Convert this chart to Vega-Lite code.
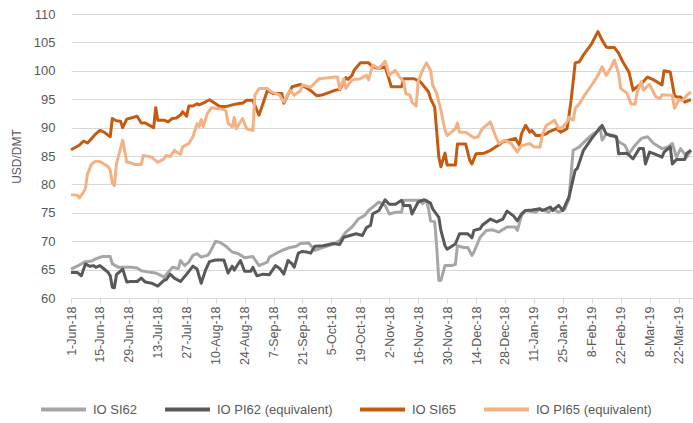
{
  "$schema": "https://vega.github.io/schema/vega-lite/v6.json",
  "autosize": {"type": "none"},
  "width": 622,
  "height": 284,
  "padding": {"left": 71, "top": 14, "right": 0, "bottom": 125},
  "background": "white",
  "config": {
    "view": {"stroke": null},
    "font": "Liberation Sans",
    "axis": {"labelColor": "#595959", "titleColor": "#595959", "labelFont": "Liberation Sans", "titleFont": "Liberation Sans"},
    "legend": {"labelFont": "Liberation Sans"}
  },
  "datasets": {
    "si62": [
      {"d":"2018-06-01","v":65.1},{"d":"2018-06-05","v":65.8},{"d":"2018-06-08","v":66.4},{"d":"2018-06-11","v":66.5},{"d":"2018-06-13","v":66.9},{"d":"2018-06-16","v":67.3},{"d":"2018-06-20","v":67.3},{"d":"2018-06-21","v":66.0},{"d":"2018-06-24","v":65.4},{"d":"2018-06-26","v":65.4},{"d":"2018-06-30","v":65.4},{"d":"2018-07-03","v":65.3},{"d":"2018-07-05","v":64.8},{"d":"2018-07-08","v":64.6},{"d":"2018-07-10","v":64.5},{"d":"2018-07-12","v":64.4},{"d":"2018-07-15","v":63.9},{"d":"2018-07-16","v":63.6},{"d":"2018-07-18","v":64.5},{"d":"2018-07-20","v":65.4},{"d":"2018-07-23","v":65.2},{"d":"2018-07-24","v":66.6},{"d":"2018-07-26","v":65.7},{"d":"2018-07-28","v":66.3},{"d":"2018-07-30","v":67.5},{"d":"2018-08-01","v":67.8},{"d":"2018-08-03","v":67.2},{"d":"2018-08-06","v":67.5},{"d":"2018-08-07","v":67.9},{"d":"2018-08-10","v":70.0},{"d":"2018-08-12","v":69.8},{"d":"2018-08-15","v":69.1},{"d":"2018-08-18","v":68.1},{"d":"2018-08-21","v":67.8},{"d":"2018-08-24","v":67.1},{"d":"2018-08-28","v":67.3},{"d":"2018-08-31","v":65.7},{"d":"2018-09-02","v":66.0},{"d":"2018-09-04","v":66.3},{"d":"2018-09-05","v":67.2},{"d":"2018-09-08","v":67.8},{"d":"2018-09-12","v":68.5},{"d":"2018-09-15","v":68.9},{"d":"2018-09-18","v":69.1},{"d":"2018-09-20","v":69.6},{"d":"2018-09-24","v":69.7},{"d":"2018-09-27","v":68.4},{"d":"2018-09-30","v":68.8},{"d":"2018-10-06","v":69.5},{"d":"2018-10-09","v":70.1},{"d":"2018-10-12","v":71.6},{"d":"2018-10-15","v":72.5},{"d":"2018-10-18","v":73.9},{"d":"2018-10-21","v":74.5},{"d":"2018-10-23","v":75.4},{"d":"2018-10-25","v":76.0},{"d":"2018-10-28","v":76.9},{"d":"2018-10-31","v":76.3},{"d":"2018-11-02","v":74.8},{"d":"2018-11-05","v":75.1},{"d":"2018-11-08","v":75.1},{"d":"2018-11-09","v":77.2},{"d":"2018-11-17","v":77.2},{"d":"2018-11-18","v":76.6},{"d":"2018-11-20","v":77.2},{"d":"2018-11-21","v":75.7},{"d":"2018-11-22","v":73.6},{"d":"2018-11-24","v":73.4},{"d":"2018-11-25","v":68.9},{"d":"2018-11-26","v":63.1},{"d":"2018-11-27","v":63.1},{"d":"2018-11-29","v":65.7},{"d":"2018-12-02","v":65.7},{"d":"2018-12-04","v":65.9},{"d":"2018-12-05","v":69.2},{"d":"2018-12-08","v":68.9},{"d":"2018-12-10","v":68.9},{"d":"2018-12-12","v":67.5},{"d":"2018-12-13","v":68.1},{"d":"2018-12-16","v":70.7},{"d":"2018-12-19","v":71.9},{"d":"2018-12-22","v":72.0},{"d":"2018-12-25","v":71.6},{"d":"2018-12-29","v":72.5},{"d":"2019-01-02","v":72.5},{"d":"2019-01-03","v":71.9},{"d":"2019-01-05","v":74.5},{"d":"2019-01-07","v":75.4},{"d":"2019-01-12","v":75.1},{"d":"2019-01-14","v":75.7},{"d":"2019-01-18","v":75.1},{"d":"2019-01-20","v":75.7},{"d":"2019-01-23","v":75.1},{"d":"2019-01-26","v":75.7},{"d":"2019-01-28","v":77.5},{"d":"2019-01-30","v":86.0},{"d":"2019-02-02","v":86.6},{"d":"2019-02-07","v":88.4},{"d":"2019-02-11","v":89.5},{"d":"2019-02-12","v":90.1},{"d":"2019-02-13","v":87.8},{"d":"2019-02-15","v":88.9},{"d":"2019-02-19","v":88.6},{"d":"2019-02-21","v":87.5},{"d":"2019-02-24","v":86.9},{"d":"2019-02-26","v":85.4},{"d":"2019-03-01","v":86.9},{"d":"2019-03-04","v":88.1},{"d":"2019-03-07","v":88.4},{"d":"2019-03-10","v":87.2},{"d":"2019-03-14","v":86.3},{"d":"2019-03-17","v":86.6},{"d":"2019-03-19","v":87.2},{"d":"2019-03-21","v":84.8},{"d":"2019-03-23","v":86.3},{"d":"2019-03-26","v":84.8},{"d":"2019-03-28","v":86.0}
    ],
    "pi62": [
      {"d":"2018-06-01","v":64.5},{"d":"2018-06-04","v":64.5},{"d":"2018-06-06","v":63.9},{"d":"2018-06-08","v":66.0},{"d":"2018-06-10","v":65.6},{"d":"2018-06-12","v":65.7},{"d":"2018-06-13","v":65.4},{"d":"2018-06-15","v":65.7},{"d":"2018-06-17","v":65.1},{"d":"2018-06-19","v":64.5},{"d":"2018-06-20","v":63.9},{"d":"2018-06-21","v":61.9},{"d":"2018-06-22","v":61.8},{"d":"2018-06-23","v":64.1},{"d":"2018-06-26","v":65.1},{"d":"2018-06-28","v":62.8},{"d":"2018-06-30","v":62.9},{"d":"2018-07-03","v":62.9},{"d":"2018-07-05","v":63.5},{"d":"2018-07-07","v":62.8},{"d":"2018-07-10","v":62.6},{"d":"2018-07-13","v":62.1},{"d":"2018-07-16","v":63.1},{"d":"2018-07-17","v":63.2},{"d":"2018-07-19","v":64.2},{"d":"2018-07-21","v":63.5},{"d":"2018-07-24","v":62.9},{"d":"2018-07-27","v":64.2},{"d":"2018-07-30","v":65.6},{"d":"2018-08-01","v":65.1},{"d":"2018-08-03","v":62.6},{"d":"2018-08-05","v":64.8},{"d":"2018-08-07","v":66.4},{"d":"2018-08-10","v":66.7},{"d":"2018-08-14","v":66.7},{"d":"2018-08-16","v":64.4},{"d":"2018-08-18","v":65.6},{"d":"2018-08-19","v":64.9},{"d":"2018-08-20","v":65.5},{"d":"2018-08-22","v":66.6},{"d":"2018-08-24","v":64.7},{"d":"2018-08-27","v":64.7},{"d":"2018-08-28","v":65.4},{"d":"2018-08-30","v":63.9},{"d":"2018-09-02","v":64.2},{"d":"2018-09-05","v":64.1},{"d":"2018-09-08","v":65.7},{"d":"2018-09-10","v":65.2},{"d":"2018-09-12","v":64.2},{"d":"2018-09-14","v":66.6},{"d":"2018-09-16","v":66.0},{"d":"2018-09-17","v":65.4},{"d":"2018-09-19","v":67.9},{"d":"2018-09-21","v":68.2},{"d":"2018-09-23","v":68.1},{"d":"2018-09-25","v":67.9},{"d":"2018-09-27","v":69.1},{"d":"2018-10-01","v":69.2},{"d":"2018-10-06","v":69.6},{"d":"2018-10-09","v":69.4},{"d":"2018-10-11","v":70.7},{"d":"2018-10-14","v":71.0},{"d":"2018-10-17","v":71.3},{"d":"2018-10-20","v":71.0},{"d":"2018-10-22","v":72.4},{"d":"2018-10-24","v":72.8},{"d":"2018-10-25","v":74.8},{"d":"2018-10-28","v":75.4},{"d":"2018-10-31","v":77.3},{"d":"2018-11-02","v":76.5},{"d":"2018-11-05","v":76.5},{"d":"2018-11-08","v":77.2},{"d":"2018-11-09","v":76.3},{"d":"2018-11-12","v":76.3},{"d":"2018-11-13","v":74.8},{"d":"2018-11-16","v":76.9},{"d":"2018-11-19","v":77.3},{"d":"2018-11-22","v":76.7},{"d":"2018-11-23","v":75.7},{"d":"2018-11-26","v":74.2},{"d":"2018-11-27","v":71.9},{"d":"2018-11-29","v":69.2},{"d":"2018-11-30","v":68.6},{"d":"2018-12-04","v":69.5},{"d":"2018-12-06","v":71.3},{"d":"2018-12-10","v":71.3},{"d":"2018-12-12","v":70.6},{"d":"2018-12-13","v":71.9},{"d":"2018-12-16","v":72.2},{"d":"2018-12-17","v":72.8},{"d":"2018-12-21","v":73.9},{"d":"2018-12-24","v":73.4},{"d":"2018-12-27","v":73.9},{"d":"2018-12-29","v":75.3},{"d":"2019-01-01","v":74.5},{"d":"2019-01-03","v":73.6},{"d":"2019-01-05","v":74.8},{"d":"2019-01-07","v":75.4},{"d":"2019-01-10","v":75.5},{"d":"2019-01-14","v":75.7},{"d":"2019-01-15","v":75.4},{"d":"2019-01-19","v":76.0},{"d":"2019-01-20","v":75.4},{"d":"2019-01-23","v":76.3},{"d":"2019-01-25","v":75.4},{"d":"2019-01-28","v":77.8},{"d":"2019-01-31","v":82.5},{"d":"2019-02-01","v":82.8},{"d":"2019-02-04","v":86.0},{"d":"2019-02-08","v":88.1},{"d":"2019-02-13","v":90.4},{"d":"2019-02-15","v":88.9},{"d":"2019-02-17","v":88.6},{"d":"2019-02-20","v":88.4},{"d":"2019-02-21","v":85.4},{"d":"2019-02-25","v":85.5},{"d":"2019-02-28","v":84.5},{"d":"2019-03-03","v":86.3},{"d":"2019-03-05","v":86.3},{"d":"2019-03-06","v":83.6},{"d":"2019-03-08","v":85.7},{"d":"2019-03-10","v":85.4},{"d":"2019-03-14","v":84.8},{"d":"2019-03-15","v":85.7},{"d":"2019-03-18","v":86.6},{"d":"2019-03-19","v":83.6},{"d":"2019-03-21","v":84.4},{"d":"2019-03-25","v":84.4},{"d":"2019-03-26","v":85.5},{"d":"2019-03-28","v":86.0}
    ],
    "si65": [
      {"d":"2018-06-01","v":86.1},{"d":"2018-06-05","v":86.9},{"d":"2018-06-07","v":87.6},{"d":"2018-06-09","v":87.3},{"d":"2018-06-11","v":88.1},{"d":"2018-06-13","v":88.9},{"d":"2018-06-15","v":89.5},{"d":"2018-06-17","v":89.2},{"d":"2018-06-20","v":88.4},{"d":"2018-06-21","v":91.6},{"d":"2018-06-23","v":91.2},{"d":"2018-06-25","v":91.1},{"d":"2018-06-26","v":90.0},{"d":"2018-06-28","v":91.5},{"d":"2018-06-30","v":91.7},{"d":"2018-07-03","v":92.0},{"d":"2018-07-05","v":90.8},{"d":"2018-07-07","v":90.8},{"d":"2018-07-09","v":90.4},{"d":"2018-07-11","v":90.0},{"d":"2018-07-12","v":93.5},{"d":"2018-07-13","v":91.3},{"d":"2018-07-16","v":91.3},{"d":"2018-07-18","v":91.0},{"d":"2018-07-20","v":91.6},{"d":"2018-07-22","v":91.7},{"d":"2018-07-24","v":92.2},{"d":"2018-07-25","v":92.8},{"d":"2018-07-27","v":92.0},{"d":"2018-07-28","v":93.8},{"d":"2018-07-30","v":93.8},{"d":"2018-08-01","v":94.2},{"d":"2018-08-02","v":94.0},{"d":"2018-08-05","v":94.5},{"d":"2018-08-07","v":94.9},{"d":"2018-08-10","v":94.2},{"d":"2018-08-12","v":93.7},{"d":"2018-08-15","v":93.7},{"d":"2018-08-18","v":94.0},{"d":"2018-08-22","v":94.3},{"d":"2018-08-23","v":94.3},{"d":"2018-08-25","v":94.8},{"d":"2018-08-28","v":94.8},{"d":"2018-08-30","v":93.0},{"d":"2018-08-31","v":92.2},{"d":"2018-09-04","v":96.5},{"d":"2018-09-07","v":96.0},{"d":"2018-09-11","v":96.0},{"d":"2018-09-12","v":94.3},{"d":"2018-09-14","v":95.8},{"d":"2018-09-16","v":97.2},{"d":"2018-09-20","v":97.6},{"d":"2018-09-23","v":97.0},{"d":"2018-09-25","v":96.5},{"d":"2018-09-28","v":95.6},{"d":"2018-10-01","v":95.8},{"d":"2018-10-04","v":96.2},{"d":"2018-10-07","v":96.6},{"d":"2018-10-09","v":96.7},{"d":"2018-10-12","v":98.8},{"d":"2018-10-13","v":98.5},{"d":"2018-10-15","v":99.2},{"d":"2018-10-16","v":100.1},{"d":"2018-10-19","v":101.4},{"d":"2018-10-23","v":101.4},{"d":"2018-10-25","v":100.7},{"d":"2018-10-28","v":100.4},{"d":"2018-10-31","v":100.7},{"d":"2018-11-02","v":98.4},{"d":"2018-11-03","v":97.2},{"d":"2018-11-08","v":97.2},{"d":"2018-11-09","v":98.6},{"d":"2018-11-14","v":98.6},{"d":"2018-11-17","v":98.1},{"d":"2018-11-19","v":97.2},{"d":"2018-11-21","v":96.3},{"d":"2018-11-22","v":95.1},{"d":"2018-11-24","v":93.6},{"d":"2018-11-26","v":84.8},{"d":"2018-11-27","v":83.1},{"d":"2018-11-29","v":85.5},{"d":"2018-11-30","v":83.4},{"d":"2018-12-04","v":83.4},{"d":"2018-12-05","v":87.1},{"d":"2018-12-09","v":87.1},{"d":"2018-12-11","v":84.2},{"d":"2018-12-12","v":83.6},{"d":"2018-12-14","v":85.4},{"d":"2018-12-18","v":85.5},{"d":"2018-12-21","v":86.0},{"d":"2018-12-24","v":86.7},{"d":"2018-12-27","v":87.5},{"d":"2018-12-30","v":87.8},{"d":"2019-01-02","v":88.1},{"d":"2019-01-04","v":86.9},{"d":"2019-01-05","v":88.9},{"d":"2019-01-07","v":90.4},{"d":"2019-01-09","v":89.2},{"d":"2019-01-10","v":89.5},{"d":"2019-01-12","v":88.6},{"d":"2019-01-14","v":88.6},{"d":"2019-01-17","v":88.9},{"d":"2019-01-18","v":89.2},{"d":"2019-01-22","v":89.8},{"d":"2019-01-24","v":89.2},{"d":"2019-01-27","v":89.8},{"d":"2019-01-28","v":92.2},{"d":"2019-01-29","v":94.8},{"d":"2019-01-31","v":101.4},{"d":"2019-02-02","v":101.6},{"d":"2019-02-04","v":102.8},{"d":"2019-02-08","v":104.8},{"d":"2019-02-11","v":106.9},{"d":"2019-02-13","v":105.4},{"d":"2019-02-15","v":104.2},{"d":"2019-02-16","v":104.1},{"d":"2019-02-19","v":104.1},{"d":"2019-02-21","v":103.1},{"d":"2019-02-23","v":101.6},{"d":"2019-02-26","v":99.8},{"d":"2019-02-28","v":96.6},{"d":"2019-03-01","v":96.9},{"d":"2019-03-04","v":97.8},{"d":"2019-03-05","v":98.1},{"d":"2019-03-07","v":98.9},{"d":"2019-03-10","v":98.4},{"d":"2019-03-14","v":97.5},{"d":"2019-03-15","v":100.0},{"d":"2019-03-18","v":99.8},{"d":"2019-03-20","v":95.7},{"d":"2019-03-21","v":95.4},{"d":"2019-03-23","v":95.4},{"d":"2019-03-25","v":94.5},{"d":"2019-03-27","v":94.8},{"d":"2019-03-28","v":94.9}
    ],
    "pi65": [
      {"d":"2018-06-01","v":78.2},{"d":"2018-06-04","v":78.1},{"d":"2018-06-05","v":77.6},{"d":"2018-06-07","v":78.6},{"d":"2018-06-08","v":79.4},{"d":"2018-06-09","v":81.9},{"d":"2018-06-11","v":83.6},{"d":"2018-06-13","v":84.1},{"d":"2018-06-15","v":84.0},{"d":"2018-06-17","v":83.6},{"d":"2018-06-19","v":83.1},{"d":"2018-06-20","v":82.5},{"d":"2018-06-21","v":80.2},{"d":"2018-06-22","v":79.8},{"d":"2018-06-23","v":83.6},{"d":"2018-06-26","v":87.8},{"d":"2018-06-28","v":83.9},{"d":"2018-06-29","v":83.9},{"d":"2018-07-02","v":83.5},{"d":"2018-07-05","v":83.5},{"d":"2018-07-06","v":85.1},{"d":"2018-07-10","v":84.8},{"d":"2018-07-13","v":83.9},{"d":"2018-07-16","v":84.5},{"d":"2018-07-17","v":85.1},{"d":"2018-07-19","v":84.9},{"d":"2018-07-21","v":86.0},{"d":"2018-07-23","v":85.5},{"d":"2018-07-24","v":85.3},{"d":"2018-07-25","v":86.6},{"d":"2018-07-28","v":87.2},{"d":"2018-07-30","v":88.4},{"d":"2018-08-01","v":90.7},{"d":"2018-08-02","v":90.2},{"d":"2018-08-03","v":91.4},{"d":"2018-08-04","v":90.2},{"d":"2018-08-06","v":92.5},{"d":"2018-08-08","v":93.5},{"d":"2018-08-10","v":93.4},{"d":"2018-08-14","v":93.2},{"d":"2018-08-15","v":92.9},{"d":"2018-08-16","v":90.8},{"d":"2018-08-18","v":90.1},{"d":"2018-08-19","v":91.8},{"d":"2018-08-20","v":89.8},{"d":"2018-08-23","v":91.6},{"d":"2018-08-25","v":89.8},{"d":"2018-08-28","v":89.5},{"d":"2018-08-29","v":95.7},{"d":"2018-08-31","v":96.9},{"d":"2018-09-04","v":96.9},{"d":"2018-09-06","v":96.3},{"d":"2018-09-10","v":95.7},{"d":"2018-09-12","v":94.5},{"d":"2018-09-15","v":96.6},{"d":"2018-09-17","v":95.7},{"d":"2018-09-20","v":96.5},{"d":"2018-09-21","v":97.5},{"d":"2018-09-25","v":97.1},{"d":"2018-09-29","v":98.6},{"d":"2018-10-07","v":98.9},{"d":"2018-10-08","v":98.9},{"d":"2018-10-09","v":96.8},{"d":"2018-10-11","v":98.6},{"d":"2018-10-12","v":96.9},{"d":"2018-10-15","v":98.4},{"d":"2018-10-19","v":98.6},{"d":"2018-10-22","v":99.2},{"d":"2018-10-23","v":98.4},{"d":"2018-10-25","v":101.0},{"d":"2018-10-28","v":100.4},{"d":"2018-10-31","v":101.7},{"d":"2018-11-02","v":99.2},{"d":"2018-11-05","v":100.1},{"d":"2018-11-07","v":98.9},{"d":"2018-11-09","v":98.1},{"d":"2018-11-10","v":96.0},{"d":"2018-11-12","v":95.7},{"d":"2018-11-13","v":94.5},{"d":"2018-11-15","v":93.8},{"d":"2018-11-16","v":98.1},{"d":"2018-11-18","v":100.0},{"d":"2018-11-20","v":101.4},{"d":"2018-11-22","v":100.1},{"d":"2018-11-23","v":97.5},{"d":"2018-11-25","v":96.0},{"d":"2018-11-27","v":93.1},{"d":"2018-11-29","v":89.5},{"d":"2018-11-30","v":88.6},{"d":"2018-12-04","v":89.8},{"d":"2018-12-05","v":90.8},{"d":"2018-12-06","v":89.2},{"d":"2018-12-09","v":89.2},{"d":"2018-12-13","v":88.2},{"d":"2018-12-15","v":88.4},{"d":"2018-12-17","v":89.8},{"d":"2018-12-21","v":91.0},{"d":"2018-12-23","v":88.9},{"d":"2018-12-25","v":87.2},{"d":"2018-12-28","v":87.8},{"d":"2018-12-31","v":87.2},{"d":"2019-01-03","v":85.7},{"d":"2019-01-05","v":86.9},{"d":"2019-01-06","v":86.9},{"d":"2019-01-09","v":87.2},{"d":"2019-01-11","v":86.6},{"d":"2019-01-14","v":86.6},{"d":"2019-01-15","v":88.6},{"d":"2019-01-17","v":90.4},{"d":"2019-01-19","v":90.8},{"d":"2019-01-21","v":91.3},{"d":"2019-01-23","v":89.8},{"d":"2019-01-25","v":90.1},{"d":"2019-01-27","v":91.0},{"d":"2019-01-28","v":91.8},{"d":"2019-01-30","v":91.3},{"d":"2019-01-31","v":93.4},{"d":"2019-02-02","v":94.2},{"d":"2019-02-04","v":95.4},{"d":"2019-02-08","v":97.5},{"d":"2019-02-11","v":99.2},{"d":"2019-02-13","v":100.7},{"d":"2019-02-15","v":99.2},{"d":"2019-02-17","v":100.4},{"d":"2019-02-19","v":101.9},{"d":"2019-02-21","v":99.5},{"d":"2019-02-22","v":96.9},{"d":"2019-02-25","v":96.1},{"d":"2019-02-27","v":94.2},{"d":"2019-03-01","v":94.1},{"d":"2019-03-02","v":96.3},{"d":"2019-03-04","v":98.1},{"d":"2019-03-05","v":96.6},{"d":"2019-03-08","v":97.6},{"d":"2019-03-11","v":95.4},{"d":"2019-03-13","v":95.1},{"d":"2019-03-14","v":95.8},{"d":"2019-03-18","v":95.7},{"d":"2019-03-19","v":95.7},{"d":"2019-03-20","v":93.4},{"d":"2019-03-22","v":94.8},{"d":"2019-03-24","v":94.8},{"d":"2019-03-26","v":95.7},{"d":"2019-03-28","v":96.3}
    ]
  },
  "encoding": {
    "x": {
      "field": "d", "type": "temporal",
      "scale": {"type": "utc", "domain": [{"year":2018,"month":6,"date":1,"utc":true},{"year":2019,"month":3,"date":29,"utc":true}]},
      "axis": {
        "title": null,
        "values": [
          {"year":2018,"month":6,"date":1,"utc":true},{"year":2018,"month":6,"date":15,"utc":true},{"year":2018,"month":6,"date":29,"utc":true},
          {"year":2018,"month":7,"date":13,"utc":true},{"year":2018,"month":7,"date":27,"utc":true},{"year":2018,"month":8,"date":10,"utc":true},
          {"year":2018,"month":8,"date":24,"utc":true},{"year":2018,"month":9,"date":7,"utc":true},{"year":2018,"month":9,"date":21,"utc":true},
          {"year":2018,"month":10,"date":5,"utc":true},{"year":2018,"month":10,"date":19,"utc":true},{"year":2018,"month":11,"date":2,"utc":true},
          {"year":2018,"month":11,"date":16,"utc":true},{"year":2018,"month":11,"date":30,"utc":true},{"year":2018,"month":12,"date":14,"utc":true},
          {"year":2018,"month":12,"date":28,"utc":true},{"year":2019,"month":1,"date":11,"utc":true},{"year":2019,"month":1,"date":25,"utc":true},
          {"year":2019,"month":2,"date":8,"utc":true},{"year":2019,"month":2,"date":22,"utc":true},{"year":2019,"month":3,"date":8,"utc":true},
          {"year":2019,"month":3,"date":22,"utc":true}
        ],
        "format": "%-d-%b-%y",
        "labelAngle": -90,
        "labelFontSize": 12.5,
        "labelPadding": 3,
        "labelBound": false,
        "labelOverlap": false,
        "labelFlush": false,
        "grid": false,
        "domainColor": "#D9D9D9",
        "domainWidth": 1,
        "tickColor": "#D9D9D9",
        "tickSize": 5
      }
    },
    "y": {
      "field": "v", "type": "quantitative",
      "scale": {"domain": [60, 110], "nice": false, "zero": false},
      "axis": {
        "title": "USD/DMT",
        "titleFontSize": 12,
        "titleFontWeight": "normal",
        "titlePadding": 10,
        "values": [60, 65, 70, 75, 80, 85, 90, 95, 100, 105, 110],
        "labelFontSize": 13,
        "labelPadding": 16,
        "domain": false,
        "ticks": false,
        "gridColor": "#D9D9D9",
        "gridWidth": 1
      }
    }
  },
  "layer": [
    {
      "data": {"name": "si62"},
      "mark": {"type": "line", "strokeWidth": 3, "strokeJoin": "round"},
      "encoding": {
        "color": {
          "datum": "IO SI62",
          "scale": {"domain": ["IO SI62", "IO PI62 (equivalent)", "IO SI65", "IO PI65 (equivalent)"], "range": ["#A6A6A6", "#595959", "#C55A11", "#F4B183"]},
          "legend": {
            "title": null, "orient": "none", "legendX": -32, "legendY": 371,
            "direction": "horizontal", "columns": 4, "gridAlign": "none", "symbolType": "stroke",
            "symbolSize": 2025, "symbolStrokeWidth": 4, "labelOffset": 5, "columnPadding": 19,
            "labelFontSize": 13, "labelColor": "#595959"
          }
        }
      }
    },
    {
      "data": {"name": "pi62"},
      "mark": {"type": "line", "strokeWidth": 3, "strokeJoin": "round"},
      "encoding": {"color": {"datum": "IO PI62 (equivalent)"}}
    },
    {
      "data": {"name": "si65"},
      "mark": {"type": "line", "strokeWidth": 3, "strokeJoin": "round"},
      "encoding": {"color": {"datum": "IO SI65"}}
    },
    {
      "data": {"name": "pi65"},
      "mark": {"type": "line", "strokeWidth": 3, "strokeJoin": "round"},
      "encoding": {"color": {"datum": "IO PI65 (equivalent)"}}
    }
  ]
}
